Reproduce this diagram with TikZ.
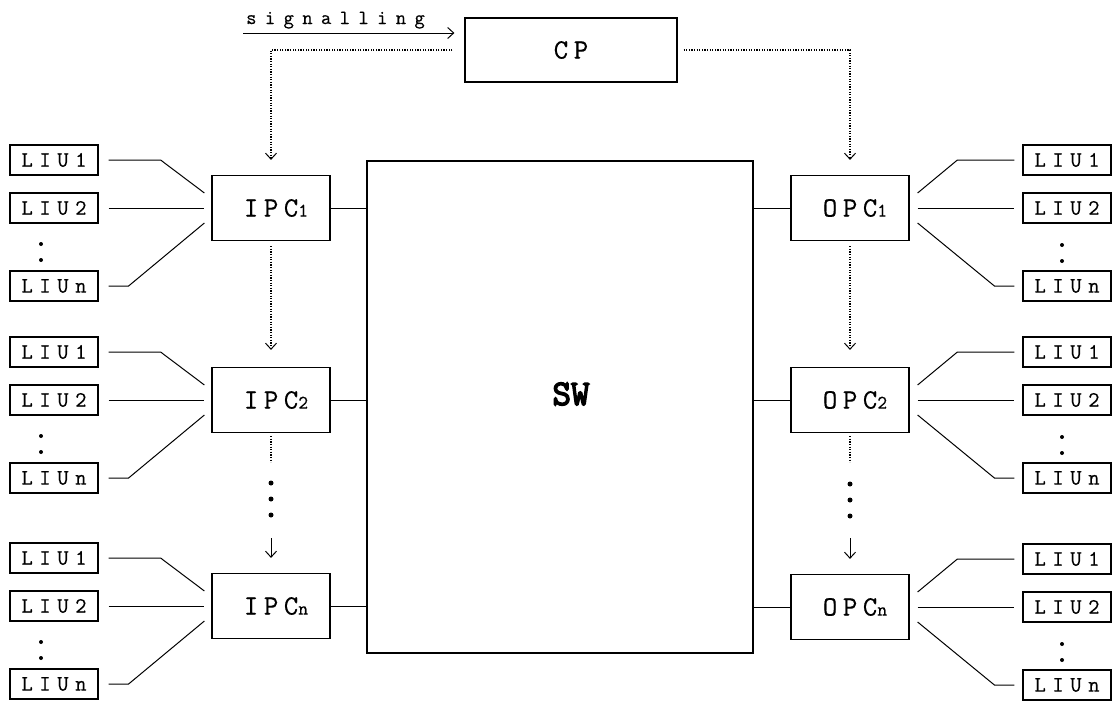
\documentclass[tikz,border=0pt]{standalone}
\usepackage{fontspec}
\usetikzlibrary{arrows.meta,calc}
\newfontfamily\boxfont[LetterSpace=20,FakeBold=0.5]{Latin Modern Mono}
\newfontfamily\liufont[LetterSpace=30,FakeBold=0.5]{Latin Modern Mono}
\newfontfamily\sigfont[LetterSpace=42,FakeBold=0.5]{Latin Modern Mono}
\newfontfamily\swfont[FakeBold=4]{Latin Modern Mono}
\newcommand{\pc}[2]{{\hspace*{10pt}\boxfont\fontsize{28}{30}\selectfont #1{\fontsize{19}{20}\selectfont #2}}}
\newcommand{\liu}[1]{{\liufont\fontsize{22}{24}\selectfont LIU#1}}
\tikzset{
  pcbox/.style={draw, line width=1.2pt, minimum width=118pt, minimum height=65pt, inner sep=0pt},
  liubox/.style={draw, line width=1.2pt, minimum width=88pt, minimum height=30pt, inner sep=0pt},
  wire/.style={line width=1pt},
  ctrl/.style={line width=1.1pt, dash pattern=on 1.2pt off 1.4pt},
  tip/.style={-{Straight Barb[length=6pt,width=11pt,line width=1pt]}},
  bigdot/.style={fill, circle, inner sep=0pt, minimum size=5pt},
  smalldot/.style={fill, circle, inner sep=0pt, minimum size=4pt}
}
\begin{document}
\begin{tikzpicture}[x=1pt,y=-1pt]
\useasboundingbox (0,0) rectangle (1116,704);
% control processor
\node[draw, line width=1.2pt, minimum width=212pt, minimum height=64pt, inner sep=0pt] (CP) at (571,50) {\boxfont\fontsize{28}{30}\selectfont CP};
\node[anchor=base west, inner sep=0pt] (sig) at (246,24) {\sigfont\fontsize{20}{22}\selectfont signalling};
\coordinate (sigstart) at (243,33);
\coordinate (cpin) at ([xshift=-10pt]CP.west);
\draw[wire, tip] (sigstart) -- (sigstart -| cpin);
% switch
\node[draw, line width=1.2pt, minimum width=386pt, minimum height=492pt, inner sep=0pt] (SW) at (560,407) {};
\node[inner sep=0pt] (swl) at (571,394) {\swfont\fontsize{36}{40}\selectfont SW};
% input / output port controllers
\node[pcbox] (IPC1) at (271,208) {\pc{IPC}{1}};
\node[pcbox] (IPC2) at (271,400) {\pc{IPC}{2}};
\node[pcbox] (IPCn) at (271,606) {\pc{IPC}{n}};
\node[pcbox] (OPC1) at (850,208) {\pc{OPC}{1}};
\node[pcbox] (OPC2) at (850,400) {\pc{OPC}{2}};
\node[pcbox] (OPCn) at (850,607) {\pc{OPC}{n}};
% port controllers to switch
\foreach \p in {IPC1,IPC2,IPCn} \draw[wire] (\p.east) -- (\p.east -| SW.west);
\foreach \p in {OPC1,OPC2,OPCn} \draw[wire] (\p.west) -- (\p.west -| SW.east);
% left line interface units
\foreach \g/\y in {1/208,2/400,n/606} {
  \node[liubox] (L\g1) at (54,\y-48) {\liu{1}};
  \node[liubox] (L\g2) at (54,\y) {\liu{2}};
  \node[liubox] (L\g n) at (54,\y+78) {\liu{n}};
  \node[smalldot] (Ld\g a) at (41,\y+36) {};
  \node[smalldot] (Ld\g b) at (41,\y+52) {};
  \draw[wire] ([xshift=10pt]L\g1.east) -- ([xshift=62pt]L\g1.east) -- ([xshift=-7pt,yshift=15pt]IPC\g.west);
  \draw[wire] ([xshift=10pt]L\g2.east) -- ([xshift=-7pt]IPC\g.west);
  \draw[wire] ([xshift=10pt]L\g n.east) -- ([xshift=30pt]L\g n.east) -- ([xshift=-7pt,yshift=-15pt]IPC\g.west);
}
% right line interface units
\foreach \g/\y in {1/208,2/400,n/607} {
  \node[liubox] (R\g1) at (1067,\y-48) {\liu{1}};
  \node[liubox] (R\g2) at (1067,\y) {\liu{2}};
  \node[liubox] (R\g n) at (1067,\y+78) {\liu{n}};
  \node[smalldot] (Rd\g a) at (1062,\y+37) {};
  \node[smalldot] (Rd\g b) at (1062,\y+53) {};
  \draw[wire] ([xshift=8pt,yshift=15pt]OPC\g.east) -- ([xshift=-65pt]R\g1.west) -- ([xshift=-8pt]R\g1.west);
  \draw[wire] ([xshift=8pt]OPC\g.east) -- ([xshift=-8pt]R\g2.west);
  \draw[wire] ([xshift=8pt,yshift=-15pt]OPC\g.east) -- ([xshift=-28pt]R\g n.west) -- ([xshift=-8pt]R\g n.west);
}
% control signalling paths
\draw[ctrl, tip] ([xshift=-12pt]CP.west) -| ([yshift=15pt]IPC1.north);
\draw[ctrl, tip] ([xshift=6pt]CP.east) -| ([yshift=15pt]OPC1.north);
\draw[ctrl, tip] ([yshift=-5pt]IPC1.south) -- ([yshift=17pt]IPC2.north);
\draw[ctrl, tip] ([yshift=-5pt]OPC1.south) -- ([yshift=17pt]OPC2.north);
\draw[ctrl] ([yshift=-3pt]IPC2.south) -- ++(0,26);
\draw[ctrl] ([yshift=-3pt]OPC2.south) -- ++(0,26);
\node[bigdot] (id1) at (271,483) {};
\node[bigdot] (id2) at (271,499) {};
\node[bigdot] (id3) at (271,515) {};
\node[bigdot] (od1) at (850,484) {};
\node[bigdot] (od2) at (850,500) {};
\node[bigdot] (od3) at (850,516) {};
\coordinate (ia) at (271,538);
\coordinate (oa) at (850,538);
\draw[wire, tip] (ia) -- ([yshift=15pt]IPCn.north);
\draw[wire, tip] (oa) -- ([yshift=15pt]OPCn.north);
\end{tikzpicture}
\end{document}
